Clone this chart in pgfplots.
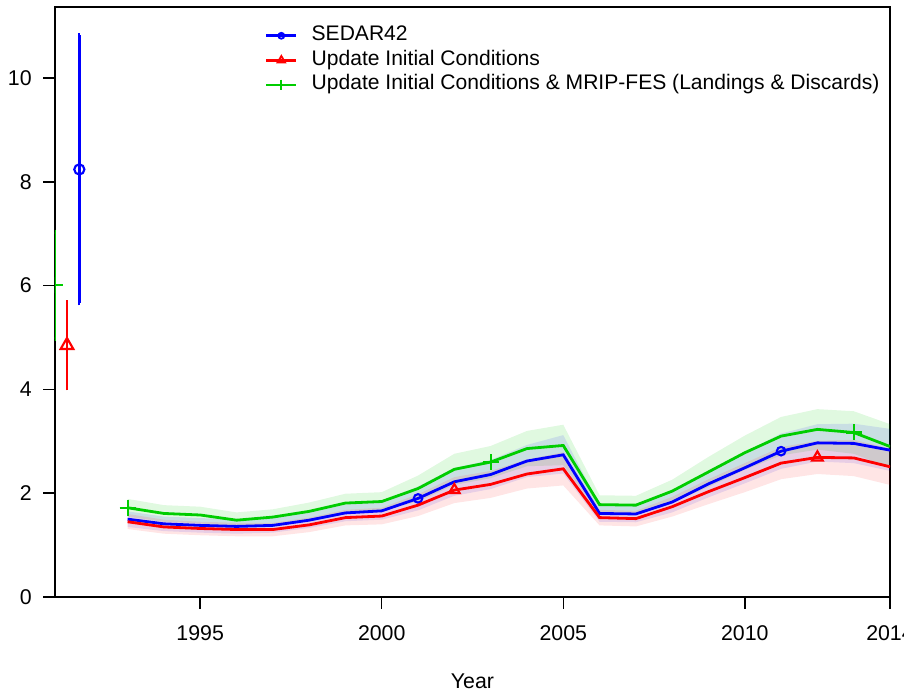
\documentclass[border=0pt]{standalone}
\usepackage{fontspec}
\setmainfont{Liberation Sans}
\usepackage{pgfplots}
\pgfplotsset{compat=1.18}
\usepackage{pgfplotstable}
\usepgfplotslibrary{fillbetween}

\definecolor{rblue}{RGB}{0,0,255}
\definecolor{rred}{RGB}{255,0,0}
\definecolor{rgreen}{RGB}{0,205,0}

% year, green/blue/red estimates with lower and upper band
\pgfplotstableread{
year g    gl   gu   b    bl   bu   r    rl   ru
1993 1.72 1.55 1.89 1.50 1.35 1.65 1.45 1.31 1.60
1994 1.61 1.45 1.77 1.41 1.27 1.55 1.35 1.22 1.49
1995 1.58 1.42 1.74 1.38 1.24 1.52 1.32 1.19 1.45
1996 1.48 1.33 1.63 1.36 1.22 1.50 1.30 1.17 1.43
1997 1.54 1.39 1.69 1.38 1.24 1.52 1.30 1.17 1.43
1998 1.65 1.49 1.82 1.48 1.33 1.63 1.39 1.25 1.53
1999 1.81 1.63 1.99 1.62 1.46 1.78 1.53 1.38 1.68
2000 1.84 1.66 2.02 1.66 1.49 1.83 1.56 1.40 1.72
2001 2.09 1.84 2.34 1.90 1.67 2.13 1.77 1.56 1.98
2002 2.46 2.16 2.76 2.22 1.95 2.49 2.06 1.81 2.31
2003 2.60 2.29 2.91 2.36 2.08 2.64 2.17 1.91 2.43
2004 2.86 2.52 3.20 2.62 2.31 2.93 2.37 2.09 2.65
2005 2.92 2.54 3.32 2.74 2.38 3.12 2.47 2.15 2.79
2006 1.78 1.60 1.96 1.61 1.45 1.77 1.53 1.38 1.68
2007 1.77 1.59 1.95 1.60 1.44 1.76 1.51 1.36 1.66
2008 2.04 1.82 2.26 1.83 1.63 2.03 1.74 1.55 1.93
2009 2.41 2.12 2.70 2.18 1.92 2.44 2.03 1.79 2.27
2010 2.78 2.45 3.11 2.49 2.19 2.79 2.30 2.02 2.58
2011 3.10 2.73 3.47 2.81 2.47 3.15 2.58 2.27 2.89
2012 3.23 2.84 3.62 2.97 2.61 3.33 2.69 2.37 3.01
2013 3.17 2.76 3.58 2.96 2.58 3.34 2.68 2.33 3.03
2014 2.90 2.49 3.33 2.83 2.43 3.24 2.51 2.16 2.86
}\series

% initial values with error bars
\pgfplotstableread{
x       y    em   ep
1991.00 6.01 1.03 1.03
}\initg
\pgfplotstableread{
x       y    em   ep
1991.33 4.85 0.83 0.83
}\initr
\pgfplotstableread{
x       y    em   ep
1991.67 8.24 2.58 2.59
}\initb

\begin{document}
\begin{tikzpicture}
\begin{axis}[
  name=ax,
  scale only axis,
  width=626.25pt, height=442.5pt,
  xmin=1991, xmax=2014,
  ymin=0, ymax=11.37,
  xtick={1995,2000,2005,2010,2014},
  ytick={0,2,4,6,8,10},
  xticklabel style={/pgf/number format/1000 sep={}, yshift=-9pt},
  yticklabel style={xshift=-5pt},
  /pgf/number format/assume math mode=true,
  tick label style={font=\fontsize{16}{18}\selectfont},
  tick align=outside,
  major tick length=9pt,
  tick style={black, line width=1.1pt},
  axis line style={line width=1.1pt},
  xtick pos=bottom, ytick pos=left,
  clip marker paths=true,
  xlabel={Year},
  xlabel style={font=\fontsize{16}{18}\selectfont, at={(axis description cs:0.5,0)}, anchor=center, yshift=-63pt},
  legend style={at={(axis description cs:0.2515,0.972)}, anchor=north west, draw=none, fill=none,
    inner sep=0pt, outer sep=0pt, row sep=0pt,
    nodes={inner sep=0pt, text height=13pt, text depth=5.4pt},
    font=\fontsize{15.8}{18}\selectfont, legend cell align=left},
  legend image code/.code={\draw[mark repeat=2,mark phase=2,#1] plot coordinates {(0pt,0pt)(11.25pt,0pt)(22.5pt,0pt)};
    \path (33pt,0pt);},
  legend entries={SEDAR42, Update Initial Conditions, Update Initial Conditions \& MRIP-FES (Landings \& Discards)},
]
\addlegendimage{rblue, line width=2pt, mark=o, mark options={mark size=2.2pt, line width=1.4pt}}
\addlegendimage{rred, line width=2pt, mark=triangle, mark options={mark size=3.2pt, line width=1.4pt}}
\addlegendimage{rgreen, line width=2pt, mark=+, mark options={mark size=4pt, line width=1.5pt}}

% confidence bands
\addplot[draw=none, name path=gu] table[x=year, y=gu]{\series};
\addplot[draw=none, name path=gl] table[x=year, y=gl]{\series};
\addplot[draw=none, name path=bu] table[x=year, y=bu]{\series};
\addplot[draw=none, name path=bl] table[x=year, y=bl]{\series};
\addplot[draw=none, name path=ru] table[x=year, y=ru]{\series};
\addplot[draw=none, name path=rl] table[x=year, y=rl]{\series};
\addplot[fill=rgreen, fill opacity=0.12, draw=none] fill between[of=gu and gl];
\addplot[fill=rblue, fill opacity=0.10, draw=none] fill between[of=bu and bl];
\addplot[fill=rred, fill opacity=0.10, draw=none] fill between[of=ru and rl];

% estimates
\addplot[rgreen, line width=2.1pt, mark=+, mark indices={1,11,21},
  mark options={mark size=6pt, line width=1.6pt}] table[x=year, y=g]{\series};
\addplot[rblue, line width=2.1pt, mark=o, mark indices={9,19},
  mark options={mark size=3.2pt, line width=1.6pt}] table[x=year, y=b]{\series};
\addplot[rred, line width=2.1pt, mark=triangle, mark indices={10,20},
  mark options={mark size=4.6pt, line width=1.6pt}] table[x=year, y=r]{\series};

% initial values
\addplot[rgreen, line width=2pt, mark=+, mark options={mark size=6pt, line width=1.6pt},
  error bars/.cd, y dir=both, y explicit, error mark=-,
  error mark options={rgreen, mark size=1.5pt, line width=1.4pt},
  error bar style={rgreen, line width=2pt}]
  table[x=x, y=y, y error plus=ep, y error minus=em]{\initg};
\addplot[rred, line width=2pt, mark=triangle, mark options={mark size=5.5pt, line width=1.6pt},
  error bars/.cd, y dir=both, y explicit, error mark=-,
  error mark options={rred, mark size=1.5pt, line width=1.4pt},
  error bar style={rred, line width=2pt}]
  table[x=x, y=y, y error plus=ep, y error minus=em]{\initr};
\addplot[rblue, line width=2pt, mark=o, mark options={mark size=3.8pt, line width=1.6pt},
  error bars/.cd, y dir=both, y explicit, error mark=-,
  error mark options={rblue, mark size=1.5pt, line width=1.4pt},
  error bar style={rblue, line width=2pt}]
  table[x=x, y=y, y error plus=ep, y error minus=em]{\initb};
\end{axis}
\pgfresetboundingbox
\path[use as bounding box] ([xshift=-41.25pt, yshift=-70.5pt]ax.south west) rectangle ([xshift=10.5pt, yshift=5.25pt]ax.north east);
\end{tikzpicture}
\end{document}
